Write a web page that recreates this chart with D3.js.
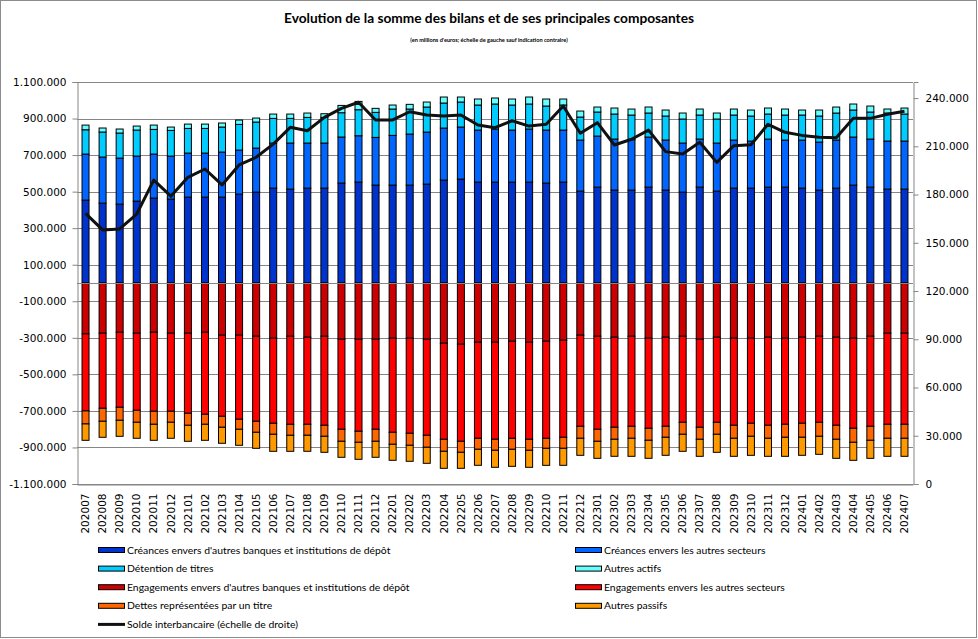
<!DOCTYPE html>
<html>
<head>
<meta charset="utf-8">
<script src="https://cdn.jsdelivr.net/npm/d3@7.9.0/dist/d3.min.js"></script>
<style>
  html, body { margin: 0; padding: 0; background: #fff; }
  svg { display: block; }
</style>
</head>
<body>
<svg id="chart" width="978" height="639"></svg>
<script>
const months = [
  '202007','202008','202009','202010','202011','202012',
  '202101','202102','202103','202104','202105','202106','202107','202108','202109','202110','202111','202112',
  '202201','202202','202203','202204','202205','202206','202207','202208','202209','202210','202211','202212',
  '202301','202302','202303','202304','202305','202306','202307','202308','202309','202310','202311','202312',
  '202401','202402','202403','202404','202405','202406','202407'
];

// actif (millions d'euros)
const creancesBanques = [453600,437200,431700,448100,464600,459000,470000,470000,470000,486500,497400,519300,513900,519300,519300,546900,552300,535800,535800,535800,541200,563100,568600,552200,552200,552200,552200,546700,552200,502900,524800,508400,508400,524800,508400,497400,524800,502900,519300,519300,524800,524800,519300,508400,519300,535800,524800,513900,513900];
const creancesSecteurs = [252000,252000,252000,246500,241000,235500,241000,241000,246500,241000,241000,246500,252000,246500,246500,251900,253600,261000,272000,279300,284800,284800,284800,284800,290300,284800,290300,290300,284800,279300,279300,279300,275700,273900,273900,268400,262900,262900,262900,257400,262900,257400,262900,262900,262900,262900,262900,262900,262900];
const detentionTitres = [133000,137000,137000,142400,135000,140600,135000,135000,137000,140600,142400,135000,135000,140600,140600,133100,142400,137000,144200,137000,137000,137000,137000,137000,137000,137000,137000,131500,137000,126000,131500,137000,135000,131500,131500,131500,131500,131500,137000,137000,137000,137000,137000,142400,147900,147900,147900,153400,147900];
const autresActifs = [25600,22000,22000,22000,23700,18300,23700,23700,22000,23700,22000,23700,23700,23700,20000,40000,45500,22000,22000,25600,27400,32900,27400,32900,32900,32900,38300,38300,32900,32900,27400,32900,32900,32900,32900,32900,32900,32900,32900,32900,32900,32900,27400,32900,32900,32900,32900,22000,32900];

// passif (valeurs negatives)
const engagementsBanques = [-278500,-274800,-269400,-274800,-269400,-274800,-274800,-269400,-285800,-285800,-291300,-302200,-291300,-296700,-291300,-307700,-307700,-307700,-302200,-302200,-307700,-329600,-335100,-324100,-324100,-318700,-324100,-318700,-313200,-285800,-291300,-296700,-291300,-302200,-296700,-291300,-307700,-296700,-302200,-302200,-296700,-302200,-296700,-291300,-296700,-302200,-291300,-274800,-274800];
const engagementsSecteurs = [-421700,-410800,-410800,-421700,-432700,-427200,-438200,-449100,-443600,-460000,-465600,-465600,-482000,-476500,-487500,-492900,-503900,-492900,-514800,-520300,-525800,-525800,-531300,-525800,-531300,-531300,-531300,-531300,-531300,-498400,-509400,-492900,-492900,-492900,-487500,-471000,-482000,-465600,-476500,-465600,-482000,-471000,-471000,-471000,-482000,-492900,-492900,-498400,-498400];
const dettesTitre = [-71200,-71200,-71200,-65700,-71200,-60200,-65700,-54800,-60200,-54800,-60200,-60200,-60200,-60200,-60200,-65700,-60200,-65700,-65700,-65700,-65700,-65700,-60200,-60200,-60200,-60200,-60200,-54800,-60200,-65700,-65700,-65700,-65700,-65700,-60200,-65700,-65700,-65700,-71200,-71200,-71200,-71200,-76700,-76700,-76700,-76700,-76700,-76700,-76700];
const autresPassifs = [-89500,-87600,-87600,-87600,-87600,-87600,-87600,-87600,-87600,-87600,-87600,-93100,-87600,-87600,-87600,-87600,-93100,-87600,-87600,-87600,-87600,-93100,-87600,-87600,-93100,-93100,-93100,-93100,-93100,-93100,-93100,-93100,-98600,-98600,-98600,-93100,-93100,-98600,-98600,-104100,-98600,-104100,-98600,-98600,-104100,-98600,-98600,-98600,-98600];

// solde interbancaire (echelle de droite)
const soldeInterbancaire = [168300,158000,158600,167900,189000,179000,190700,195900,186000,198400,203200,211400,221800,219700,228000,233600,237400,226400,226400,231500,229500,228900,229500,223300,221600,225900,222600,223700,235100,218100,224700,210800,214400,220100,206700,205200,212500,200000,210400,211000,223700,218700,216800,215600,215400,227400,227400,229900,231800];

const leftTicks = [-1100000,-900000,-700000,-500000,-300000,-100000,100000,300000,500000,700000,900000,1100000];
const rightTicks = [0,30000,60000,90000,120000,150000,180000,210000,240000];

const series = [
  { key: 'cb', label: "Créances envers d'autres banques et institutions de dépôt", color: '#0033cc', values: creancesBanques },
  { key: 'cs', label: 'Créances envers les autres secteurs', color: '#0066ff', values: creancesSecteurs },
  { key: 'dt', label: 'Détention de titres', color: '#00ccff', values: detentionTitres },
  { key: 'aa', label: 'Autres actifs', color: '#66ffff', values: autresActifs },
  { key: 'eb', label: "Engagements envers d'autres banques et institutions de dépôt", color: '#cc0000', values: engagementsBanques },
  { key: 'es', label: 'Engagements envers les autres secteurs', color: '#ff0000', values: engagementsSecteurs },
  { key: 'dr', label: 'Dettes représentées par un titre', color: '#ff6600', values: dettesTitre },
  { key: 'ap', label: 'Autres passifs', color: '#ff9900', values: autresPassifs },
];

const table = months.map((m, i) => {
  const row = { month: m };
  series.forEach(s => { row[s.key] = s.values[i]; });
  return row;
});

const W = 978, H = 639;
const plot = { left: 77, right: 913, top: 82, bottom: 484 };

const svg = d3.select('#chart');

const fr = d3.formatLocale({ decimal: ',', thousands: '.', grouping: [3], currency: ['', ' €'], minus: '-' });
const fmt = fr.format(',.0f');

const x = d3.scaleBand()
  .domain(months)
  .range([plot.left, plot.right])
  .paddingInner(0.59)
  .paddingOuter(0.295);

const y = d3.scaleLinear().domain([-1100000, 1100000]).range([plot.bottom, plot.top]);
const y2 = d3.scaleLinear().domain([0, 250000]).range([plot.bottom, plot.top]);

// cadre exterieur
svg.append('rect')
  .attr('x', 0.5).attr('y', 0.5)
  .attr('width', W - 2).attr('height', H - 2)
  .attr('fill', '#fff').attr('stroke', '#8c8c8c');

// titres
svg.append('text')
  .attr('x', 489).attr('y', 23)
  .attr('text-anchor', 'middle')
  .style('font-family', 'Lato, "Liberation Sans", sans-serif')
  .style('font-weight', 'bold')
  .style('font-size', '13.7px')
  .text('Evolution de la somme des bilans et de ses principales composantes');

svg.append('text')
  .attr('x', 489).attr('y', 42)
  .attr('text-anchor', 'middle')
  .style('font-family', 'Lato, "Liberation Sans", sans-serif')
  .style('font-weight', 'bold')
  .style('font-size', '5.6px')
  .text("(en millions d'euros; échelle de gauche sauf indication contraire)");

// grille
svg.append('g')
  .selectAll('line')
  .data(leftTicks)
  .join('line')
  .attr('x1', plot.left).attr('x2', plot.right)
  .attr('y1', d => Math.round(y(d)) + 0.5).attr('y2', d => Math.round(y(d)) + 0.5)
  .attr('stroke', '#868686');

const axisFont = g => g.selectAll('text')
  .style('font-family', '"DejaVu Sans", Verdana, sans-serif')
  .style('font-size', '10.5px')
  .attr('fill', '#000');

const leftAxis = svg.append('g')
  .attr('transform', `translate(${plot.left + 0.5},0)`)
  .call(d3.axisLeft(y).tickValues(leftTicks).tickFormat(fmt).tickSize(5).tickPadding(6))
  .call(axisFont);
leftAxis.selectAll('path, line').attr('stroke', '#868686');

const rightAxis = svg.append('g')
  .attr('transform', `translate(${plot.right + 0.5},0)`)
  .call(d3.axisRight(y2).tickValues(rightTicks).tickFormat(fmt).tickSize(5).tickPadding(7))
  .call(axisFont);
rightAxis.selectAll('path, line').attr('stroke', '#868686');

const bottomAxis = svg.append('g')
  .attr('transform', `translate(0,${plot.bottom + 0.5})`)
  .call(d3.axisBottom(x).tickSize(0).tickPadding(0))
  .call(axisFont);
bottomAxis.select('path').attr('stroke', '#868686');
bottomAxis.selectAll('text')
  .attr('text-anchor', 'end')
  .attr('transform', 'rotate(-90)')
  .attr('x', -9)
  .attr('y', 0)
  .attr('dy', '0.35em');

// barres empilees
const stack = d3.stack()
  .keys(series.map(s => s.key))
  .offset(d3.stackOffsetDiverging);
const stacked = stack(table);

const bars = svg.append('g');
stacked.forEach((layer, li) => {
  bars.append('g')
    .attr('fill', series[li].color)
    .selectAll('rect')
    .data(layer)
    .join('rect')
    .attr('x', d => x(d.data.month))
    .attr('y', d => y(Math.max(d[0], d[1])))
    .attr('width', x.bandwidth())
    .attr('height', d => Math.abs(y(d[0]) - y(d[1])))
    .attr('stroke', '#000')
    .attr('stroke-width', 1);
});

// ligne zero
svg.append('line')
  .attr('x1', plot.left).attr('x2', plot.right)
  .attr('y1', Math.round(y(0)) + 0.5).attr('y2', Math.round(y(0)) + 0.5)
  .attr('stroke', '#868686');

// solde interbancaire
svg.append('path')
  .datum(soldeInterbancaire)
  .attr('fill', 'none')
  .attr('stroke', '#111')
  .attr('stroke-width', 3)
  .attr('stroke-linejoin', 'round')
  .attr('d', d3.line()
    .x((d, i) => x(months[i]) + x.bandwidth() / 2)
    .y(d => y2(d)));

// legende
const legendItems = series.map(s => ({ label: s.label, color: s.color, type: 'rect' }));
legendItems.push({ label: 'Solde interbancaire (échelle de droite)', color: '#111', type: 'line' });

const legend = svg.append('g');
const item = legend.selectAll('g')
  .data(legendItems)
  .join('g')
  .attr('transform', (d, i) => {
    const col = i % 2, row = Math.floor(i / 2);
    return `translate(${col === 0 ? 98 : 575},${550 + row * 18.6})`;
  });

item.filter(d => d.type === 'rect')
  .append('rect')
  .attr('x', 0.5).attr('y', -2.5)
  .attr('width', 26).attr('height', 5)
  .attr('fill', d => d.color)
  .attr('stroke', '#000');

item.filter(d => d.type === 'line')
  .append('line')
  .attr('x1', 0).attr('x2', 27)
  .attr('y1', 0).attr('y2', 0)
  .attr('stroke', d => d.color)
  .attr('stroke-width', 3);

item.append('text')
  .attr('x', 29).attr('y', 0)
  .attr('dy', '0.35em')
  .style('font-family', 'Lato, "Liberation Sans", sans-serif')
  .style('font-size', '10.4px')
  .text(d => d.label);
</script>
</body>
</html>
